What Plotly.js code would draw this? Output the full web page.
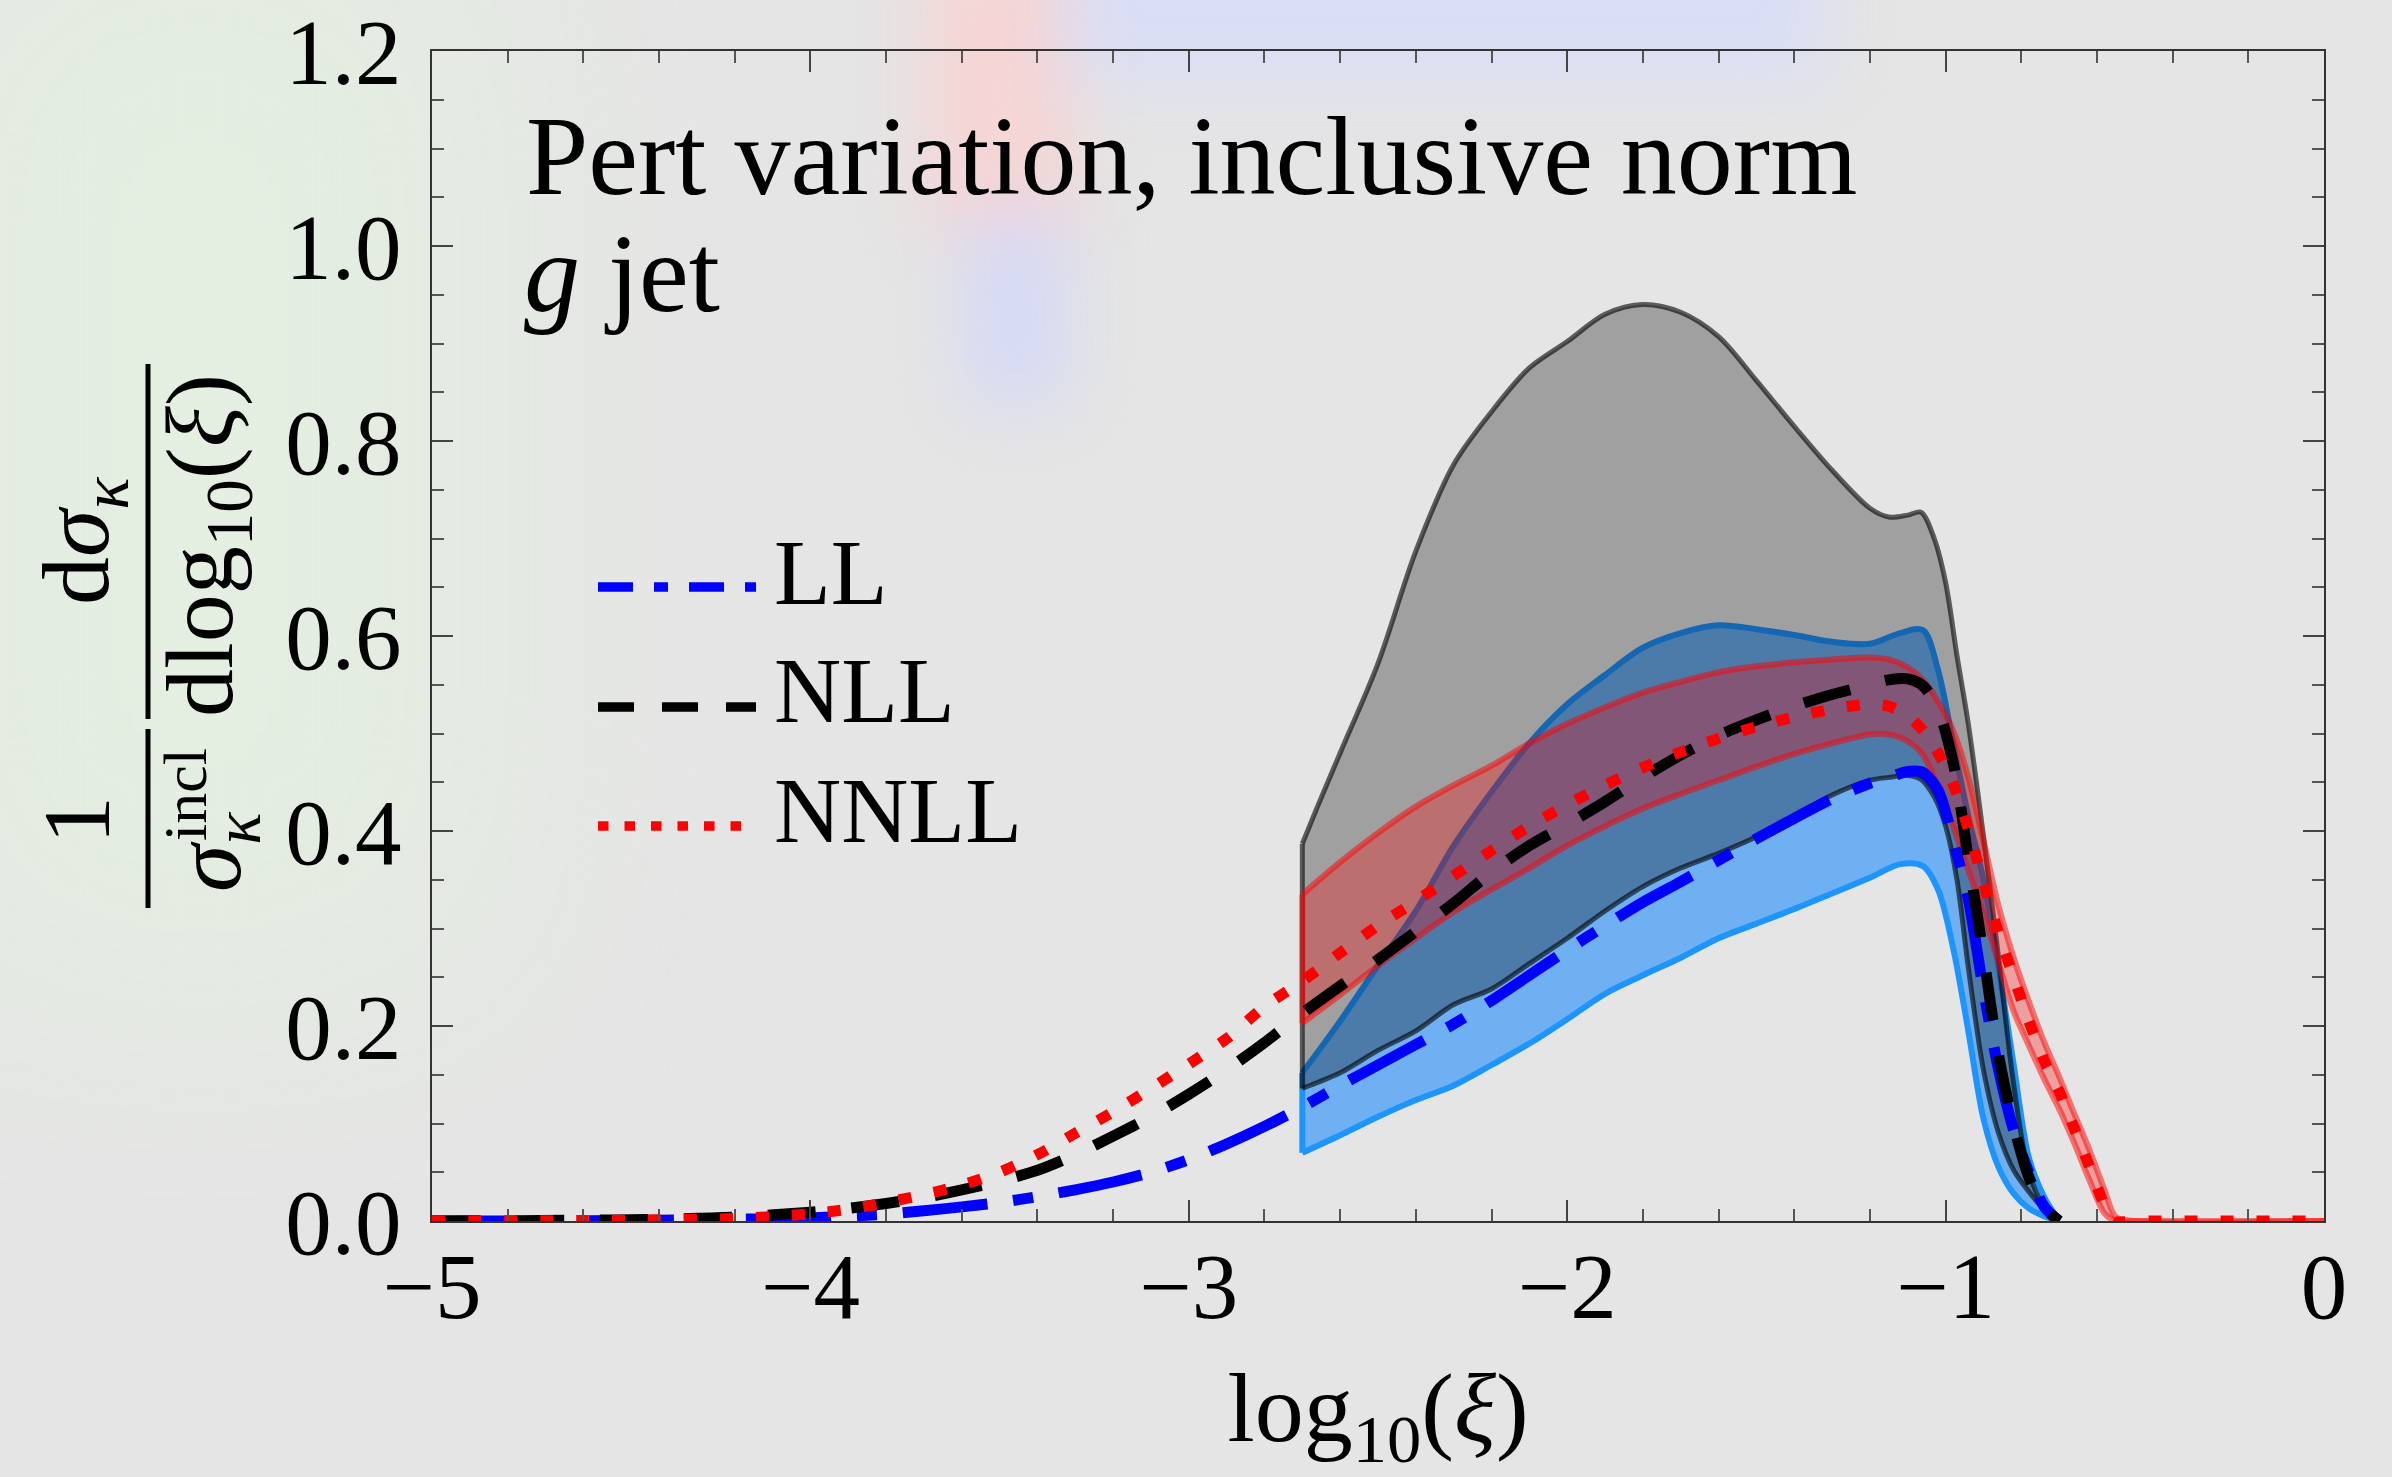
<!DOCTYPE html>
<html>
<head>
<meta charset="utf-8">
<script src="https://cdn.plot.ly/plotly-3.0.1.min.js"></script>
<style>
html, body { margin:0; padding:0; width:2392px; height:1477px; overflow:hidden; background:#E5E5E5; }
#bg { position:absolute; left:0; top:0; width:2392px; height:1477px; overflow:hidden; z-index:0; }
.blob { position:absolute; filter: blur(35px); }
#chart { position:absolute; left:0; top:0; width:2392px; height:1477px; z-index:1; }
</style>
</head>
<body>
<div id="bg">
  <div class="blob" style="left:-100px;top:-100px;width:600px;height:1100px;background:rgba(228,245,222,0.55);filter:blur(140px)"></div>
  <div class="blob" style="left:925px;top:-60px;width:150px;height:290px;background:rgba(255,205,205,0.65);"></div>
  <div class="blob" style="left:965px;top:215px;width:100px;height:190px;background:rgba(205,210,255,0.65);"></div>
  <div class="blob" style="left:1065px;top:-80px;width:760px;height:160px;background:rgba(212,218,255,0.65);"></div>
</div>
<div id="chart"></div>
<script>
// ---------------- data ----------------
// central curves
const llX = [-5,-4.6,-4.4,-4.2,-4.0,-3.9,-3.8,-3.7,-3.6,-3.5,-3.4,-3.3,-3.2,-3.1,-3.0,-2.9,-2.8,-2.7,-2.6,-2.5,-2.4,-2.3,-2.2,-2.1,-2.0,-1.9,-1.8,-1.7,-1.6,-1.5,-1.4,-1.3,-1.2,-1.15,-1.1,-1.06,-1.02,-0.98,-0.94,-0.9,-0.86,-0.82,-0.78,-0.74,-0.70];
const llY = [0,0.0003,0.0008,0.0018,0.003,0.005,0.007,0.0105,0.0145,0.019,0.025,0.032,0.04,0.05,0.063,0.079,0.097,0.117,0.139,0.16,0.181,0.202,0.226,0.252,0.278,0.303,0.327,0.348,0.37,0.392,0.413,0.433,0.449,0.455,0.461,0.46,0.442,0.39,0.33,0.237,0.155,0.093,0.05,0.015,0];

const nllX = [-5,-4.6,-4.4,-4.2,-4.0,-3.9,-3.8,-3.7,-3.6,-3.5,-3.4,-3.3,-3.2,-3.1,-3.0,-2.9,-2.8,-2.7,-2.6,-2.5,-2.4,-2.3,-2.2,-2.1,-2.0,-1.9,-1.8,-1.7,-1.6,-1.5,-1.4,-1.3,-1.2,-1.15,-1.1,-1.06,-1.02,-0.98,-0.94,-0.9,-0.86,-0.82,-0.78,-0.74,-0.70];
const nllY = [0,0.0008,0.0018,0.004,0.009,0.013,0.018,0.024,0.032,0.041,0.052,0.068,0.087,0.107,0.13,0.155,0.183,0.213,0.241,0.268,0.297,0.326,0.358,0.385,0.407,0.43,0.455,0.478,0.498,0.514,0.528,0.54,0.55,0.555,0.556,0.549,0.525,0.47,0.372,0.273,0.17,0.098,0.045,0.014,0];

const nnllX = [-5,-4.6,-4.4,-4.2,-4.1,-4.0,-3.9,-3.8,-3.7,-3.6,-3.5,-3.4,-3.3,-3.2,-3.1,-3.0,-2.9,-2.8,-2.7,-2.6,-2.5,-2.4,-2.3,-2.2,-2.1,-2.0,-1.9,-1.8,-1.7,-1.6,-1.5,-1.4,-1.3,-1.2,-1.15,-1.1,-1.06,-1.02,-0.98,-0.94,-0.9,-0.86,-0.82,-0.78,-0.74,-0.7,-0.66,-0.62,-0.58,-0.556,-0.5,0];
const nnllY = [0,0.0005,0.0012,0.0025,0.0045,0.0075,0.012,0.019,0.027,0.037,0.05,0.068,0.09,0.112,0.136,0.161,0.187,0.22,0.246,0.275,0.303,0.328,0.354,0.38,0.405,0.427,0.447,0.465,0.481,0.495,0.507,0.517,0.525,0.53,0.528,0.518,0.503,0.48,0.448,0.402,0.347,0.295,0.25,0.205,0.165,0.133,0.095,0.056,0.016,0,0,0];

// uncertainty bands
const llBandX  = [-2.7,-2.6,-2.5,-2.4,-2.3,-2.2,-2.1,-2.0,-1.9,-1.8,-1.7,-1.6,-1.5,-1.4,-1.3,-1.2,-1.12,-1.06,-1.02,-0.98,-0.94,-0.9,-0.86,-0.82,-0.78,-0.74,-0.70];
const llBandHi = [0.152,0.205,0.262,0.318,0.385,0.44,0.49,0.53,0.56,0.588,0.603,0.611,0.607,0.601,0.594,0.592,0.603,0.606,0.565,0.49,0.415,0.35,0.26,0.16,0.065,0.025,0];
const llBandLo = [0.07,0.088,0.107,0.124,0.139,0.16,0.182,0.207,0.233,0.252,0.27,0.29,0.305,0.32,0.336,0.352,0.366,0.364,0.34,0.28,0.195,0.105,0.055,0.028,0.013,0.005,0];

const nllBandX  = [-2.7,-2.66,-2.6,-2.5,-2.4,-2.3,-2.2,-2.1,-2.0,-1.9,-1.8,-1.7,-1.6,-1.5,-1.4,-1.3,-1.2,-1.15,-1.1,-1.065,-1.03,-1.0,-0.97,-0.94,-0.9,-0.86,-0.82,-0.78,-0.74,-0.70];
const nllBandHi = [0.387,0.425,0.48,0.572,0.687,0.776,0.83,0.875,0.902,0.93,0.94,0.932,0.907,0.862,0.815,0.77,0.731,0.722,0.724,0.727,0.70,0.655,0.58,0.51,0.395,0.27,0.14,0.05,0.015,0];
const nllBandLo = [0.136,0.142,0.152,0.175,0.195,0.222,0.238,0.264,0.29,0.318,0.343,0.362,0.377,0.394,0.415,0.437,0.452,0.455,0.457,0.453,0.435,0.405,0.35,0.26,0.155,0.09,0.052,0.03,0.012,0];

const nnllBandX  = [-2.7,-2.6,-2.5,-2.4,-2.3,-2.2,-2.1,-2.0,-1.9,-1.8,-1.7,-1.6,-1.5,-1.4,-1.3,-1.2,-1.15,-1.1,-1.06,-1.02,-0.98,-0.94,-0.9,-0.86,-0.82,-0.78,-0.74,-0.7,-0.66,-0.62,-0.58,-0.55,-0.5,0];
const nnllBandHi = [0.335,0.368,0.398,0.425,0.447,0.467,0.49,0.51,0.527,0.542,0.553,0.563,0.569,0.573,0.576,0.578,0.576,0.568,0.555,0.533,0.503,0.455,0.39,0.323,0.27,0.225,0.184,0.148,0.11,0.073,0.032,0.004,0,0];
const nnllBandLo = [0.203,0.232,0.262,0.29,0.317,0.34,0.362,0.385,0.405,0.423,0.438,0.452,0.466,0.479,0.49,0.499,0.499,0.492,0.478,0.445,0.405,0.36,0.315,0.265,0.215,0.18,0.146,0.115,0.08,0.042,0.008,0,0,0];

// labels
const seriesNames = ['LL', 'NLL', 'NNLL'];
const xTickVals = [-5,-4,-3,-2,-1,0];
const yTickVals = [0,0.2,0.4,0.6,0.8,1.0,1.2];
const yTickText = ['0.0','0.2','0.4','0.6','0.8','1.0','1.2'];
const titleLine1 = 'Pert variation, inclusive norm';
const titleLine2 = '<i>g</i> jet';

// ---------------- styling ----------------
const FONT = '"Liberation Serif", "Times New Roman", Times, serif';
const W = 2392, H = 1477;
const L = 432, R = 2324, T = 51, B = 1221;
const px = v => (v - L) / (R - L);
const py = v => (B - v) / (B - T);

const colLL = 'rgb(0,0,255)', colNLL = 'rgb(0,0,0)', colNNLL = 'rgb(255,0,0)';
const dashLL = '85px,26px,20px,26px', dashNLL = '48px,36px', dashNNLL = '13px,23px';
const LW = 11;

function polygon(x, hi, lo) {
  const xs = [], ys = [];
  const push = (a, b) => {
    const n = xs.length;
    if (n && xs[n-1] === a && ys[n-1] === b) return;
    xs.push(a); ys.push(b);
  };
  for (let i = 0; i < x.length; i++) push(x[i], hi[i]);
  for (let i = x.length - 1; i >= 0; i--) push(x[i], lo[i]);
  return {x: xs, y: ys};
}

function bandTraces(x, hi, lo, fill, edge, edgeW) {
  const p = polygon(x, hi, lo);
  return [
    {type:'scatter', mode:'lines', x:p.x, y:p.y, fill:'toself', fillcolor:fill,
     line:{width:0, shape:'spline', smoothing:0.9}, hoverinfo:'skip'},
    {type:'scatter', mode:'lines', x:x, y:hi, line:{color:edge, width:edgeW, shape:'spline', smoothing:0.9}, hoverinfo:'skip'},
    {type:'scatter', mode:'lines', x:x, y:lo, line:{color:edge, width:edgeW, shape:'spline', smoothing:0.9}, hoverinfo:'skip'},
    {type:'scatter', mode:'lines', x:[x[0], x[0]], y:[lo[0], hi[0]], line:{color:edge, width:edgeW}, hoverinfo:'skip'}
  ];
}

const traces = [].concat(
  bandTraces(llBandX, llBandHi, llBandLo, 'rgba(30,140,250,0.6)', 'rgb(30,148,255)', 6),
  bandTraces(nllBandX, nllBandHi, nllBandLo, 'rgba(0,0,0,0.3)', 'rgba(0,0,0,0.6)', 5),
  bandTraces(nnllBandX, nnllBandHi, nnllBandLo, 'rgba(255,0,0,0.3)', 'rgba(255,0,0,0.5)', 6),
  [
    {type:'scatter', mode:'lines', name:seriesNames[0], x:llX, y:llY, line:{color:colLL, width:LW, dash:dashLL, shape:'spline', smoothing:0.8}},
    {type:'scatter', mode:'lines', name:seriesNames[1], x:nllX, y:nllY, line:{color:colNLL, width:LW, dash:dashNLL, shape:'spline', smoothing:0.8}},
    {type:'scatter', mode:'lines', name:seriesNames[2], x:nnllX, y:nnllY, line:{color:colNNLL, width:LW, dash:dashNNLL, shape:'spline', smoothing:0.8}}
  ]
);

const annotations = [];
const shapes = [];
function ann(text, xp, yp, size, extra) {
  annotations.push(Object.assign({
    text: text, xref:'paper', yref:'paper', x: px(xp), y: py(yp),
    xanchor:'left', yanchor:'middle', showarrow:false,
    font:{family:FONT, size:size, color:'#000'}
  }, extra || {}));
}

// plot title text inside frame
ann(titleLine1, 524, 156, 112);
ann(titleLine2, 522, 273, 112);

// legend (custom)
const legendRows = [
  {name:seriesNames[0], color:colLL, dash:'35px,21px,14px,21px', ly:587, ty:572},
  {name:seriesNames[1], color:colNLL, dash:'36px,28px', ly:707, ty:690},
  {name:seriesNames[2], color:colNNLL, dash:'10.5px,16px', ly:826, ty:810}
];
legendRows.forEach(r => {
  shapes.push({type:'line', xref:'paper', yref:'paper', x0:px(598), x1:px(756), y0:py(r.ly), y1:py(r.ly),
               line:{color:r.color, width:9.5, dash:r.dash}});
  ann(r.name, 772, r.ty, 93);
});

// y-axis label: (1 / sigma_kappa^incl) (d sigma_kappa / d log10(xi)), rotated
const rot = {textangle:-90, xanchor:'center', yanchor:'middle'};
ann('1', 76, 820, 96, rot);
ann('<i>σ</i><sub><i>κ</i></sub>', 214, 852, 96, rot);
ann('incl', 185, 795, 62, rot);
ann('d<i>σ</i><sub><i>κ</i></sub>', 82, 541, 96, rot);
ann('dlog<sub>10</sub>(<i>ξ</i>)', 206, 546, 96, rot);
shapes.push({type:'line', xref:'paper', yref:'paper', x0:px(148), x1:px(148), y0:py(729), y1:py(908), line:{color:'#000', width:5}});
shapes.push({type:'line', xref:'paper', yref:'paper', x0:px(148), x1:px(148), y0:py(364), y1:py(719), line:{color:'#000', width:5}});

const axisCommon = {
  ticks:'inside', tickwidth:2, tickcolor:'#444', ticklen:21,
  mirror:'ticks', showline:true, linecolor:'#333', linewidth:2,
  showgrid:false, zeroline:false,
  tickfont:{family:FONT, size:93, color:'#000'}
};

const layout = {
  width: W, height: H,
  margin: {l:L, r:W-R, t:T, b:H-B, pad:0},
  paper_bgcolor:'rgba(0,0,0,0)', plot_bgcolor:'rgba(0,0,0,0)',
  showlegend:false,
  font:{family:FONT, color:'#000'},
  xaxis: Object.assign({}, axisCommon, {
    range:[-5,0], tickmode:'array', tickvals:xTickVals,
    ticklabelstandoff: -17,
    minor:{dtick:0.2, tick0:0, ticks:'inside', ticklen:12, tickwidth:2, tickcolor:'#555', showgrid:false},
    title:{text:'log<sub>10</sub>(<i>ξ</i>)', font:{family:FONT, size:98, color:'#000'}, standoff:76}
  }),
  yaxis: Object.assign({}, axisCommon, {
    range:[0,1.20001], tickmode:'array', tickvals:yTickVals, ticktext:yTickText,
    ticklabelstandoff: 10,
    minor:{dtick:0.05, tick0:0, ticks:'inside', ticklen:12, tickwidth:2, tickcolor:'#555', showgrid:false}
  }),
  annotations: annotations,
  shapes: shapes
};

Plotly.newPlot('chart', traces, layout, {displayModeBar:false, staticPlot:true});
</script>
</body>
</html>
